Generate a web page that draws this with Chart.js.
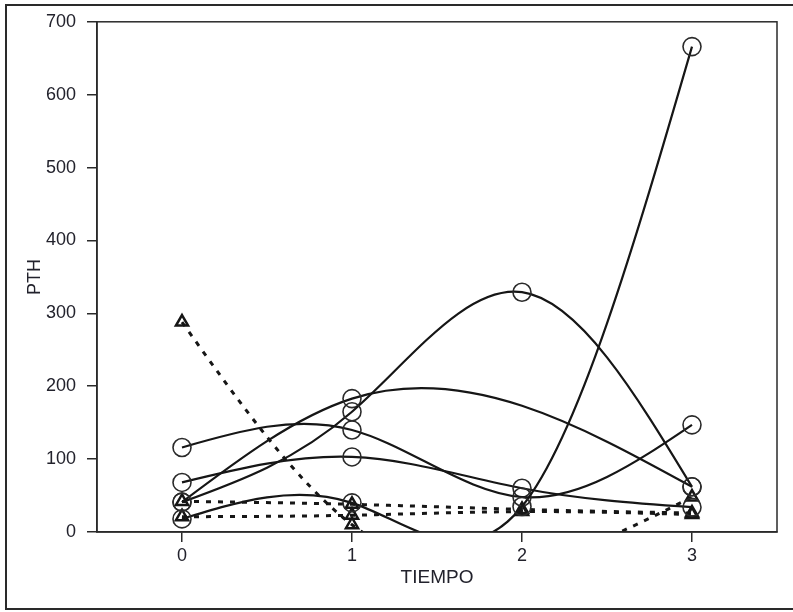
<!DOCTYPE html>
<html>
<head>
<meta charset="utf-8">
<script src="https://cdn.jsdelivr.net/npm/chart.js@4.4.1/dist/chart.umd.min.js"></script>
<style>
  html, body { margin: 0; padding: 0; background: #fff; overflow: hidden; }
  #wrap { position: relative; width: 793px; height: 612px; }
  #c { position: absolute; left: 0; top: 0; }
  #frame { position: absolute; left: 5px; top: 4px; width: 800px; height: 602px;
           border: 2px solid #2a2a2a; border-right: none; pointer-events: none; }
</style>
</head>
<body>
<div id="wrap">
  <canvas id="c" width="793" height="612"></canvas>
  <div id="frame"></div>
</div>
<script>
// Measurement times
const tiempo = [0, 1, 2, 3];

// PTH per subject, solid lines with open circles
const sujetoA = [41, 165, 329, 62];
const sujetoB = [18, 40, 35, 666];
const sujetoC = [116, 140, 48, 147];
const sujetoD = [68, 103, 60, 34];
const sujetoE = [41, 183, null, 62];

// PTH per subject, dashed lines with triangles
const sujetoF = [288, 10, null, 48];
const sujetoG = [42, 38, 31, 26];
const sujetoH = [21, 23, 28, 24];

// Axis ticks
const yTicks = [0, 100, 200, 300, 400, 500, 600, 700];
const xTicks = tiempo;

const INK = '#161616';
const TEXT = '#22222c';
const FONT = "'Liberation Sans', Arial, sans-serif";

function toPoints(vals) {
  return tiempo.map((t, i) => ({ x: t, y: vals[i] }));
}

function solid(vals) {
  return {
    data: toPoints(vals),
    borderColor: INK,
    borderWidth: 2.2,
    pointStyle: 'circle',
    pointRadius: 9,
    pointBorderWidth: 1.6,
    pointBorderColor: '#2a2a2a',
    pointBackgroundColor: 'rgba(0,0,0,0)',
    spanGaps: true,
    tension: 0.4
  };
}

function dashed(vals) {
  return {
    data: toPoints(vals),
    borderColor: INK,
    borderWidth: 3,
    borderDash: [5, 7],
    pointStyle: 'triangle',
    pointRadius: 7,
    pointBorderWidth: 2.5,
    pointBorderColor: INK,
    pointBackgroundColor: 'rgba(0,0,0,0)',
    spanGaps: true,
    tension: 0.4
  };
}

// Natural cubic spline through each line's points (pixel space),
// expressed as Bezier handles on the point elements.
const naturalSpline = {
  id: 'naturalSpline',
  beforeDatasetDraw(chart, args) {
    const meta = args.meta;
    const line = meta.dataset;
    if (!line) return;
    line.updateControlPoints(chart.chartArea, meta.iScale.axis);
    const pts = meta.data.filter(p => !p.skip);
    const n = pts.length;
    if (n < 3) return;
    const xs = pts.map(p => p.x), ys = pts.map(p => p.y);
    const h = [];
    for (let i = 0; i < n - 1; i++) h[i] = xs[i + 1] - xs[i];
    const a = [], b = [], c = [], d = [];
    for (let i = 1; i < n - 1; i++) {
      a.push(h[i - 1]);
      b.push(2 * (h[i - 1] + h[i]));
      c.push(h[i]);
      d.push(6 * ((ys[i + 1] - ys[i]) / h[i] - (ys[i] - ys[i - 1]) / h[i - 1]));
    }
    const m = b.length;
    for (let i = 1; i < m; i++) {
      const w = a[i] / b[i - 1];
      b[i] -= w * c[i - 1];
      d[i] -= w * d[i - 1];
    }
    const sol = new Array(m);
    sol[m - 1] = d[m - 1] / b[m - 1];
    for (let i = m - 2; i >= 0; i--) sol[i] = (d[i] - c[i] * sol[i + 1]) / b[i];
    const M = new Array(n).fill(0);
    for (let i = 0; i < m; i++) M[i + 1] = sol[i];
    for (let i = 0; i < n - 1; i++) {
      const hi = h[i], s = (ys[i + 1] - ys[i]) / hi;
      const d0 = s - hi * (2 * M[i] + M[i + 1]) / 6;
      const d1 = s + hi * (M[i] + 2 * M[i + 1]) / 6;
      pts[i].cp2x = xs[i] + hi / 3;
      pts[i].cp2y = ys[i] + d0 * hi / 3;
      pts[i + 1].cp1x = xs[i + 1] - hi / 3;
      pts[i + 1].cp1y = ys[i + 1] - d1 * hi / 3;
    }
    line._path = undefined;
  }
};

// Closed frame around the plotting area
const plotBox = {
  id: 'plotBox',
  afterDatasetsDraw(chart) {
    const { ctx, chartArea: r } = chart;
    ctx.save();
    ctx.strokeStyle = '#2a2a2a';
    ctx.lineWidth = 1.5;
    ctx.strokeRect(r.left, r.top, r.right - r.left, r.bottom - r.top);
    ctx.restore();
  }
};

new Chart(document.getElementById('c'), {
  type: 'line',
  data: {
    datasets: [
      solid(sujetoA), solid(sujetoB), solid(sujetoC), solid(sujetoD), solid(sujetoE),
      dashed(sujetoF), dashed(sujetoG), dashed(sujetoH)
    ]
  },
  options: {
    responsive: false,
    animation: false,
    layout: { padding: { left: 0, right: 16, top: 21, bottom: 0 } },
    elements: { line: { capBezierPoints: false } },
    plugins: { legend: { display: false }, tooltip: { enabled: false } },
    scales: {
      x: {
        type: 'linear',
        min: -0.5,
        max: 3.5,
        afterBuildTicks(scale) { scale.ticks = xTicks.map(v => ({ value: v })); },
        afterFit(scale) { scale.height = 80; },
        grid: { drawOnChartArea: false, drawTicks: true, tickLength: 10, color: '#2a2a2a', lineWidth: 1.5 },
        border: { display: true, color: '#2a2a2a', width: 1.5 },
        ticks: { color: TEXT, font: { family: FONT, size: 18 }, padding: 3, maxRotation: 0 },
        title: { display: true, text: 'TIEMPO', color: TEXT, font: { family: FONT, size: 19 },
                 padding: { top: 0, bottom: 23 } }
      },
      y: {
        type: 'linear',
        min: 0,
        max: 700,
        afterBuildTicks(scale) { scale.ticks = yTicks.map(v => ({ value: v })); },
        afterFit(scale) { scale.width = 97; },
        grid: { drawOnChartArea: false, drawTicks: true, tickLength: 10, color: '#2a2a2a', lineWidth: 1.5 },
        border: { display: true, color: '#2a2a2a', width: 1.5 },
        ticks: { color: TEXT, font: { family: FONT, size: 18 }, padding: 11 },
        title: { display: true, text: 'PTH', color: TEXT, font: { family: FONT, size: 18 },
                 padding: { top: 24, bottom: 0 } }
      }
    }
  },
  plugins: [naturalSpline, plotBox]
});
</script>
</body>
</html>
